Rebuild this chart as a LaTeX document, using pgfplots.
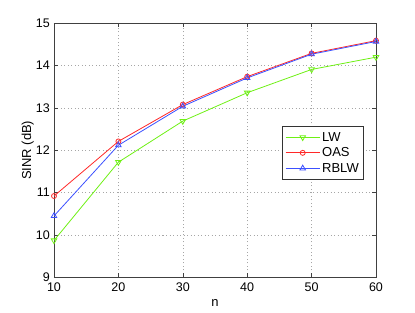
\documentclass[border=0pt]{standalone}
\usepackage{pgfplots}
\pgfplotsset{compat=1.18}
\usepackage{fontspec}
\setmainfont{Liberation Sans}
\definecolor{lwgreen}{RGB}{110,240,20}
\definecolor{oasred}{RGB}{255,40,40}
\definecolor{rblwblue}{RGB}{60,80,255}
\begin{document}
\begin{tikzpicture}
\begin{axis}[
  scale only axis,
  width=322pt, height=254pt,
  xmin=10, xmax=60, ymin=9, ymax=15,
  xtick={10,20,30,40,50,60},
  ytick={9,10,11,12,13,14,15},
  tick align=inside,
  tick pos=both,
  major tick length=4pt,
  grid=major,
  grid style={dash pattern=on 1pt off 2.5pt, gray!70, line width=0.5pt},
  axis line style={black!75, line width=0.7pt},
  tick style={black!75, line width=0.5pt},
  xlabel={n}, ylabel={SINR (dB)},
  xlabel style={yshift=-4pt},
  ylabel style={yshift=-2pt},
  tick label style={font=\fontsize{12.5}{14}\selectfont, inner sep=0.5pt},
  xticklabel style={yshift=-5pt},
  yticklabel style={xshift=-3.5pt},
  label style={font=\fontsize{13}{15}\selectfont},
  /pgf/number format/assume math mode=true,
  legend style={at={(0.963,0.49)}, anchor=east, font=\fontsize{13}{15}\selectfont,
    draw=black!80, line width=0.6pt, inner xsep=3pt, inner ysep=4pt, row sep=1pt},
  legend cell align=left,
  legend image code/.code={\draw[mark repeat=2,mark phase=2] plot coordinates {(0cm,0cm) (0.6cm,0cm) (1.2cm,0cm)};},
]
\addplot[color=lwgreen, line width=0.8pt, mark=triangle, mark size=3.2pt, mark options={rotate=180}]
  coordinates {(10,9.87) (20,11.72) (30,12.69) (40,13.36) (50,13.91) (60,14.20)};
\addlegendentry{LW}
\addplot[color=oasred, line width=0.8pt, mark=o, mark size=2.5pt]
  coordinates {(10,10.92) (20,12.21) (30,13.08) (40,13.74) (50,14.29) (60,14.59)};
\addlegendentry{OAS}
\addplot[color=rblwblue, line width=0.8pt, mark=triangle, mark size=3.2pt]
  coordinates {(10,10.45) (20,12.12) (30,13.04) (40,13.71) (50,14.27) (60,14.57)};
\addlegendentry{RBLW}
\end{axis}
\path ([xshift=-54pt,yshift=-35.7pt]current axis.south west) rectangle ([xshift=39pt,yshift=23.3pt]current axis.north east);
\end{tikzpicture}
\end{document}
